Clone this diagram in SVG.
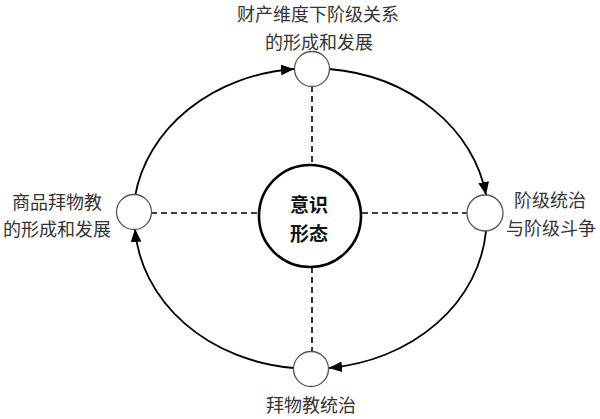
<svg xmlns="http://www.w3.org/2000/svg" width="600" height="419" viewBox="0 0 600 419">
<defs>
<style>
.lbl{font-family:"Noto Sans CJK SC","Noto Sans",sans-serif;font-size:18px;fill:#333;text-anchor:middle}
.ctr{font-family:"Noto Sans CJK SC","Noto Sans",sans-serif;font-size:19px;font-weight:bold;fill:#111;text-anchor:middle}
.node{fill:#fff;stroke:#555;stroke-width:1.3}
.arc{fill:none;stroke:#000;stroke-width:1.8}
.dash{fill:none;stroke:#000;stroke-width:1.6;stroke-dasharray:6 4}
</style>
<marker id="ah" viewBox="0 0 12 10" refX="12" refY="5" markerWidth="13" markerHeight="11" markerUnits="userSpaceOnUse" orient="auto">
<path d="M0,0 L12,5 L0,10 Z" fill="#000"/>
</marker>
</defs>
<rect width="600" height="419" fill="#fff"/>
<g id="connectors">
<line class="dash" x1="312" y1="86" x2="312" y2="166"/>
<line class="dash" x1="312" y1="267" x2="312" y2="352"/>
<line class="dash" x1="151" y1="213" x2="258" y2="213"/>
<line class="dash" x1="362" y1="213" x2="467" y2="213"/>
<path class="arc" marker-end="url(#ah)" d="M135.1,196 A176 150 0 0 1 294,69"/>
<path class="arc" marker-end="url(#ah)" d="M329,69 A176 150 0 0 1 486,195"/>
<path class="arc" marker-end="url(#ah)" d="M486,231 A176 150 0 0 1 329,368"/>
<path class="arc" marker-end="url(#ah)" d="M294,368 A176 150 0 0 1 135,229"/>
</g>
<g id="center">
<circle cx="310" cy="216" r="51" fill="#fff" stroke="#000" stroke-width="2.6"/>
<text class="ctr" x="309" y="212">意识</text>
<text class="ctr" x="309" y="241">形态</text>
</g>
<g id="top">
<circle class="node" cx="312" cy="69" r="17.5"/>
<text class="lbl" x="318" y="21">财产维度下阶级关系</text>
<text class="lbl" x="319" y="49">的形成和发展</text>
</g>
<g id="left">
<circle class="node" cx="134" cy="212" r="17.5"/>
<text class="lbl" x="57" y="209">商品拜物教</text>
<text class="lbl" x="57" y="236">的形成和发展</text>
</g>
<g id="right">
<circle class="node" cx="485" cy="213" r="18"/>
<text class="lbl" x="550" y="207">阶级统治</text>
<text class="lbl" x="551" y="235">与阶级斗争</text>
</g>
<g id="bottom">
<circle class="node" cx="311" cy="369" r="17.5"/>
<text class="lbl" x="311" y="412">拜物教统治</text>
</g>
</svg>
